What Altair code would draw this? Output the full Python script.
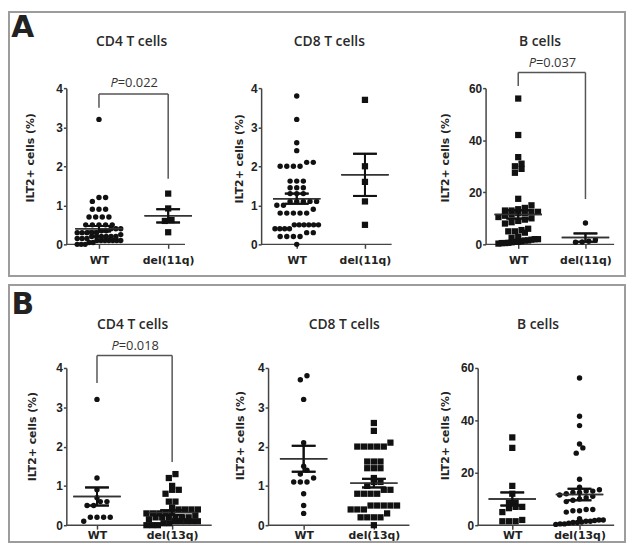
import altair as alt
import pandas as pd

# ---------------- data ----------------
groups_a = ["WT", "del(11q)"]
groups_b = ["WT", "del(13q)"]
panel_titles = ["CD4 T cells", "CD8 T cells", "B cells", "CD4 T cells", "CD8 T cells", "B cells"]
y_title = "ILT2+ cells (%)"
row_labels = ["A", "B"]

a_cd4_wt = [3.2, 1.2, 1.2, 1.1, 0.9, 0.9, 0.9, 0.7, 0.7, 0.7, 0.7, 0.5, 0.5, 0.5, 0.5, 0.5,
            0.4, 0.4, 0.4, 0.35, 0.35, 0.3, 0.3, 0.3, 0.3, 0.3, 0.25, 0.2, 0.2, 0.2, 0.2, 0.2,
            0.2, 0.15, 0.15, 0.15, 0.1, 0.1, 0.1, 0.1, 0.1, 0.1, 0.1, 0.05, 0.05, 0.0, 0.0, 0.0]
a_cd4_del = [1.3, 0.92, 0.62, 0.6, 0.31]
a_cd8_wt = [3.8, 3.2, 2.6, 2.4, 2.1, 2.1, 2.0, 2.0, 2.0, 2.0, 1.62, 1.62, 1.62, 1.45, 1.45, 1.45,
            1.3, 1.3, 1.3, 1.1, 1.1, 1.1, 1.1, 1.1, 1.0, 1.0, 0.9, 0.8, 0.8, 0.8, 0.8, 0.8,
            0.5, 0.5, 0.5, 0.5, 0.5, 0.5, 0.4, 0.4, 0.4, 0.4, 0.3, 0.3, 0.2, 0.2, 0.2, 0.2, 0.0]
a_cd8_del = [3.7, 2.0, 1.6, 1.1, 0.5]
a_b_wt = [56, 42, 33.5, 31, 30, 29, 27.5, 17.5, 15, 14, 13.5, 13, 13, 12.5, 12.5, 12, 12, 11.5,
          11, 10.5, 10, 9.5, 9, 8.5, 8, 6, 5.5, 5, 5, 4.5, 3, 2.5, 2, 2, 1.8, 1.5, 1.5, 1.2,
          1, 1, 0.8, 0.6, 0.5, 0.5, 0.3]
a_b_del = [8.2, 1.8, 1.2, 0.9, 0.8]
b_cd4_wt = [3.2, 1.2, 0.9, 0.7, 0.6, 0.6, 0.5, 0.5, 0.2, 0.2, 0.2, 0.2, 0.1]
b_cd4_del = [1.3, 1.2, 1.0, 0.9, 0.9, 0.8, 0.6, 0.6, 0.45, 0.4, 0.4, 0.4, 0.4, 0.35, 0.3, 0.3,
             0.3, 0.3, 0.25, 0.2, 0.2, 0.2, 0.2, 0.2, 0.2, 0.15, 0.1, 0.1, 0.1, 0.1, 0.1, 0.05,
             0.05, 0.0, 0.0, 0.0]
b_cd8_wt = [3.8, 3.7, 3.2, 2.1, 1.5, 1.4, 1.3, 1.2, 1.1, 1.1, 1.1, 0.8, 0.5, 0.3]
b_cd8_del = [2.6, 2.4, 2.1, 2.0, 2.0, 2.0, 2.0, 2.0, 1.62, 1.62, 1.62, 1.45, 1.45, 1.45, 1.2,
             1.1, 1.1, 1.0, 0.9, 0.9, 0.8, 0.8, 0.8, 0.8, 0.5, 0.5, 0.5, 0.5, 0.5, 0.4, 0.4,
             0.4, 0.3, 0.2, 0.2, 0.2, 0.2, 0.0]
b_b_wt = [33.5, 29.5, 15, 12, 9, 8.5, 7, 7, 6.5, 5, 2, 1.5, 1.5, 1.5]
b_b_del = [56.2, 41.6, 38, 31, 29.5, 27.5, 17.5, 14.5, 13.5, 13, 13, 12.5, 12.5, 12, 11.5, 11,
           10.5, 10, 9.5, 9, 6, 6, 5.5, 5.5, 5, 2.5, 2, 2, 1.8, 1.5, 1.5, 1.2, 1, 1, 0.8, 0.5,
           0.5, 0.3]

# mean and SEM (WT, del)
a_cd4_mean, a_cd4_sem = [0.40, 0.73], [0.07, 0.17]
a_cd8_mean, a_cd8_sem = [1.17, 1.78], [0.13, 0.54]
a_b_mean, a_b_sem = [11.5, 2.6], [1.6, 1.6]
b_cd4_mean, b_cd4_sem = [0.73, 0.32], [0.23, 0.06]
b_cd8_mean, b_cd8_sem = [1.69, 1.07], [0.33, 0.11]
b_b_mean, b_b_sem = [10.0, 11.7], [2.5, 2.2]

# significance brackets: top, left-leg end, right-leg end, label height, p
a_cd4_bracket = [3.85, 3.5, 1.68, 4.12, "0.022"]
a_b_bracket = [66.0, 60.8, 17.4, 69.5, "0.037"]
b_cd4_bracket = [4.32, 3.62, 1.61, 4.55, "0.018"]

t_ticks = [0, 1, 2, 3, 4]
b_ticks = [0, 20, 40, 60]

# ---------------- layout / style ----------------
DARK = "#111111"
AXC = "#444444"
BOX = "#9c9c9c"


def swarm(values, px_per_unit, row_px=5.5, gap_px=6.7, max_half_px=22):
    vals = sorted(values)
    rows = []
    for v in vals:
        if rows and (v - rows[-1][0]) * px_per_unit < row_px:
            rows[-1].append(v)
        else:
            rows.append([v])
    out = []
    for r in rows:
        k = len(r)
        d = gap_px if k == 1 else min(gap_px, 2 * max_half_px / (k - 1))
        for i, v in enumerate(r):
            out.append(((i - (k - 1) / 2) * d, v))
    return out


def panel(p):
    S, W, H = p["S"], p["W"], p["H"]
    lo = -p["wt_px"] / S
    hi = lo + W / S
    ymax = p["ticks"][-1]
    ppu = H / ymax
    groups = p["groups"]
    xs = alt.Scale(domain=[lo, hi], nice=False, zero=False)
    ys = alt.Scale(domain=[0, ymax], nice=False, zero=False)
    xaxis = alt.Axis(values=[0, 1],
                     labelExpr=f"datum.value == 0 ? '{groups[0]}' : '{groups[1]}'",
                     domain=False, grid=False, ticks=True, tickSize=4, tickWidth=1.5,
                     tickColor=AXC, labelFont="DejaVu Sans", labelFontWeight="bold",
                     labelFontSize=11, labelColor="#222222", labelPadding=p["xlp"],
                     labelFlush=False, title=None)
    yaxis = alt.Axis(values=p["ticks"], grid=False, domain=True, domainColor=AXC,
                     domainWidth=1.5, ticks=True, tickSize=3, tickWidth=1.5, tickColor=AXC,
                     labelFont="Liberation Sans", labelFontWeight="bold", labelFontSize=12,
                     labelColor="#222222", labelPadding=1, labelFlush=False,
                     title=y_title, titleFont="DejaVu Sans", titleFontWeight="bold",
                     titleFontSize=11, titleColor="#222222", titleX=p["ytx"],
                     titleY=p["yty"], titleAngle=270, titleAlign="center",
                     titleBaseline="middle")

    # points
    prow = []
    for ci, (vals, shp) in enumerate(zip(p["values"], p["shapes"])):
        for off, v in swarm(vals, ppu, max_half_px=p["spread"][ci]):
            prow.append({"x": ci + off / S, "y": v, "shape": shp,
                         "size": 30 if shp == "circle" else 40})
    pdf = pd.DataFrame(prow)

    # segments: x-axis line, mean, SEM, bracket
    seg = [{"x": lo, "x2": lo + p["vis"] / S, "y": 0, "y2": 0, "w": 1.5, "c": AXC}]
    for ci in range(2):
        m, s = p["mean"][ci], p["sem"][ci]
        seg.append({"x": ci - 24 / S, "x2": ci + 24 / S, "y": m, "y2": m, "w": 1.5, "c": "#333333"})
        seg.append({"x": ci - 12 / S, "x2": ci + 12 / S, "y": m + s, "y2": m + s, "w": 2, "c": DARK})
        seg.append({"x": ci - 12 / S, "x2": ci + 12 / S, "y": m - s, "y2": m - s, "w": 2, "c": DARK})
        seg.append({"x": ci, "x2": ci, "y": m - s, "y2": m + s, "w": 2, "c": DARK})
    br = p.get("bracket")
    if br:
        seg.append({"x": 0, "x2": 1, "y": br[0], "y2": br[0], "w": 1.5, "c": "#555555"})
        seg.append({"x": 0, "x2": 0, "y": br[1], "y2": br[0], "w": 1.5, "c": "#555555"})
        seg.append({"x": 1, "x2": 1, "y": br[2], "y2": br[0], "w": 1.5, "c": "#555555"})
    sdf = pd.DataFrame(seg)

    X = lambda f: alt.X(f, type="quantitative", scale=xs, axis=xaxis)
    Y = lambda f: alt.Y(f, type="quantitative", scale=ys, axis=yaxis)

    one = pd.DataFrame({"k": [0]})
    layers = []
    if p.get("box"):
        bx = p["box"]
        layers.append(alt.Chart(one).mark_rect(fillOpacity=0, stroke=BOX, strokeWidth=2).encode(
            x=alt.value(bx[0]), x2=alt.value(bx[1]), y=alt.value(bx[2]), y2=alt.value(bx[3])))
        layers.append(alt.Chart(one).mark_text(
            text=p["label"], font="DejaVu Sans", fontWeight="bold", fontSize=30,
            color="#222222", align="center", baseline="alphabetic").encode(
            x=alt.value(p["label_xy"][0]), y=alt.value(p["label_xy"][1])))
    layers.append(alt.Chart(one).mark_text(
        text=p["title"], font="Open Sans", fontWeight=600, fontSize=14, color="#2a2a2a",
        align="center", baseline="middle").encode(
        x=alt.value(p["title_xy"][0]), y=alt.value(p["title_xy"][1])))
    layers.append(alt.Chart(sdf).mark_rule().encode(
        x=X("x"), x2="x2:Q", y=Y("y"), y2="y2:Q",
        strokeWidth=alt.StrokeWidth("w:Q", scale=None),
        color=alt.Color("c:N", scale=None)))
    layers.append(alt.Chart(pdf).mark_point(filled=True, opacity=1, color=DARK).encode(
        x=X("x"), y=Y("y"),
        shape=alt.Shape("shape:N", scale=None),
        size=alt.Size("size:Q", scale=None)))
    # mean/SEM drawn on top of points
    layers.append(alt.Chart(sdf.iloc[1:9]).mark_rule().encode(
        x=X("x"), x2="x2:Q", y=Y("y"), y2="y2:Q",
        strokeWidth=alt.StrokeWidth("w:Q", scale=None),
        color=alt.Color("c:N", scale=None)))
    if br:
        tdf = pd.DataFrame({"x": [0.5], "y": [br[3]]})
        layers.append(alt.Chart(tdf).mark_text(
            text="P", font="Open Sans", fontStyle="italic", fontSize=13, color="#333333",
            align="right", baseline="middle", dx=-16).encode(x=X("x"), y=Y("y")))
        layers.append(alt.Chart(tdf).mark_text(
            text="=" + br[4], font="Open Sans", fontSize=13, color="#333333",
            align="left", baseline="middle", dx=-16).encode(x=X("x"), y=Y("y")))
    return alt.layer(*layers).properties(width=W, height=H)


HA, HB = 158, 159
GAP = 125  # vertical gap between the bottom of row A plots and the top of row B plots
panels = [
    dict(title=panel_titles[0], groups=groups_a, values=[a_cd4_wt, a_cd4_del],
         shapes=["circle", "square"], mean=a_cd4_mean, sem=a_cd4_sem, bracket=a_cd4_bracket,
         ticks=t_ticks, S=70, W=197, H=HA, wt_px=33, vis=120, xlp=6, spread=[22, 14],
         title_xy=(66, -47), ytx=-36, yty=70,
         box=(-58, 565, -77, 190), label=row_labels[0], label_xy=(-44, -52)),
    dict(title=panel_titles[1], groups=groups_a, values=[a_cd8_wt, a_cd8_del],
         shapes=["circle", "square"], mean=a_cd8_mean, sem=a_cd8_sem,
         ticks=t_ticks, S=69, W=227, H=HA, wt_px=36, vis=132, xlp=6, spread=[22, 14],
         title_xy=(69, -47), ytx=-22, yty=71),
    dict(title=panel_titles[2], groups=groups_a, values=[a_b_wt, a_b_del],
         shapes=["square", "circle"], mean=a_b_mean, sem=a_b_sem, bracket=a_b_bracket,
         ticks=b_ticks, S=68, W=141, H=HA, wt_px=33, vis=130, xlp=6, spread=[20, 14],
         title_xy=(55, -47), ytx=-40, yty=70),
    dict(title=panel_titles[3], groups=groups_b, values=[b_cd4_wt, b_cd4_del],
         shapes=["circle", "square"], mean=b_cd4_mean, sem=b_cd4_sem, bracket=b_cd4_bracket,
         ticks=t_ticks, S=76, W=204, H=HB, wt_px=31, vis=147, xlp=0, spread=[22, 26],
         title_xy=(67, -43), ytx=-34, yty=69,
         box=(-58, 565, -84, 176), label=row_labels[1], label_xy=(-44, -55)),
    dict(title=panel_titles[4], groups=groups_b, values=[b_cd8_wt, b_cd8_del],
         shapes=["circle", "square"], mean=b_cd8_mean, sem=b_cd8_sem,
         ticks=t_ticks, S=71, W=212, H=HB, wt_px=36, vis=143, xlp=0, spread=[22, 24],
         title_xy=(77, -43), ytx=-28, yty=68),
    dict(title=panel_titles[5], groups=groups_b, values=[b_b_wt, b_b_del],
         shapes=["square", "circle"], mean=b_b_mean, sem=b_b_sem,
         ticks=b_ticks, S=68, W=140, H=HB, wt_px=35, vis=138, xlp=0, spread=[20, 24],
         title_xy=(61, -43), ytx=-32, yty=68),
]

row_a = alt.hconcat(*[panel(p) for p in panels[:3]], spacing=0, bounds="flush")
row_b = alt.hconcat(*[panel(p) for p in panels[3:]], spacing=0, bounds="flush")
# with flush bounds the nested rows count as zero height, so the spacing spans row A too
chart = alt.vconcat(row_a, row_b, spacing=HA + GAP, bounds="flush").properties(
    padding=0, background="white"
).configure_view(stroke=None)

chart.save("out.html", embed_options={"renderer": "svg", "actions": False})
